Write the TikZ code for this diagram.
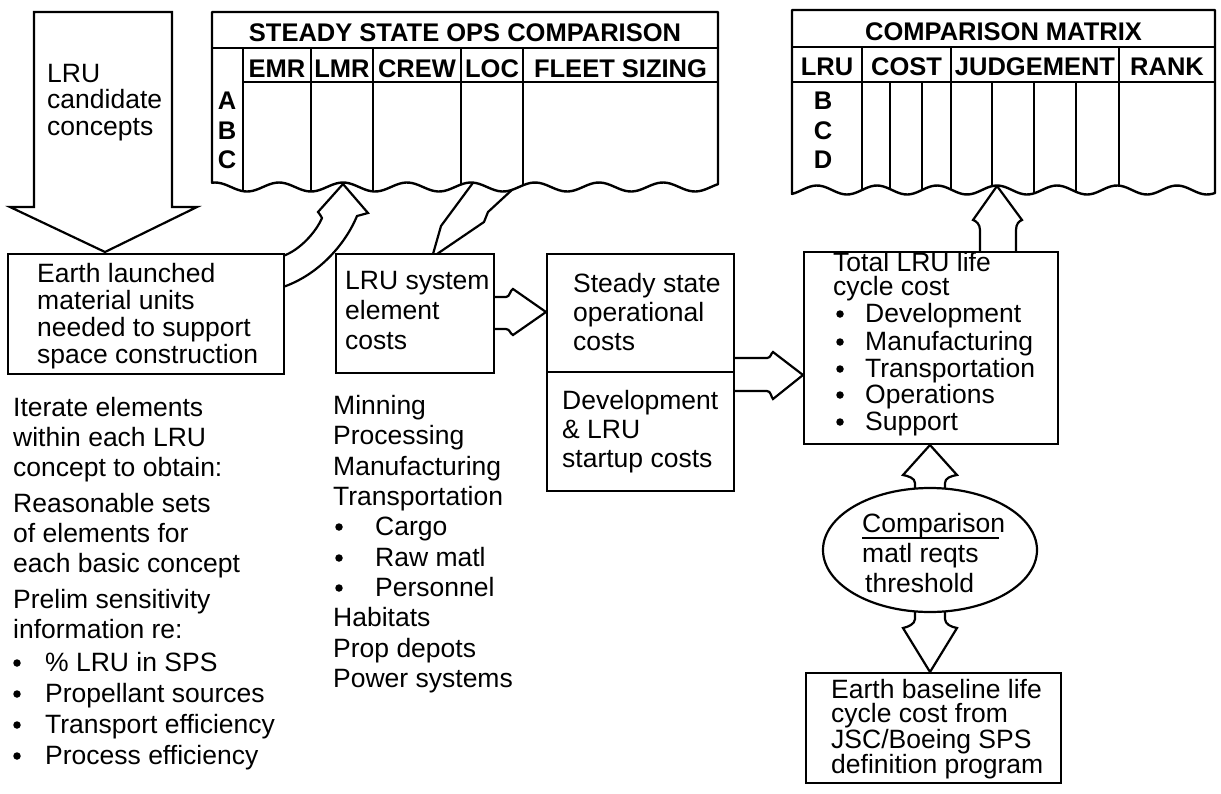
\documentclass[tikz,border=0pt]{standalone}
\usepackage{fontspec}
\setmainfont{Liberation Sans}
\usetikzlibrary{shapes.geometric}
\begin{document}
\begin{tikzpicture}[x=1pt,y=-1pt,
  txt/.style={inner sep=0pt, anchor=base west, font=\fontsize{26.5}{30}\selectfont},
  bul/.style={circle, fill=black, inner sep=0pt, minimum size=7.5pt},
  hdr/.style={inner sep=0pt, anchor=base, font=\bfseries\fontsize{25.5}{28}\selectfont},
  box/.style={draw, line width=2.4pt, fill=white, inner sep=0pt, anchor=north west},
  blk/.style={draw, line width=2.2pt, fill=white, line join=miter},
  tbl/.style={line width=2.4pt, line join=round},
  grid/.style={line width=1.7pt}]
\useasboundingbox (0,0) rectangle (1221,793);

% ---- block arrows (drawn first, boxes and tables cover their ends)
\draw[blk] (34,12) -- (172,12) -- (172,207) -- (197,207) -- (105,252) -- (10,207) -- (34,207) -- cycle;
\draw[blk] (283,256) .. controls (300,250) and (316,232) .. (322,218) .. controls (321,215) and (319,214) .. (318,212) -- (343,184) -- (368,213) -- (357,216) .. controls (345,245) and (318,275) .. (283,287);
\draw[blk] (433,254) -- (441,226) -- (478,176) -- (527,176) -- (488,212) -- (484,222) -- (437,254);
\draw[blk] (493,297) -- (506,297) .. controls (510,297) and (510,290) .. (513,289) -- (546,312) -- (513,335) .. controls (510,334) and (510,329) .. (506,329) -- (493,329);
\draw[blk] (733,358) -- (767,358) .. controls (771,358) and (771,353) .. (773,352) -- (803,375) -- (773,399) .. controls (771,397) and (771,391) .. (767,391) -- (733,391);
\draw[blk] (980,253) -- (980,230) .. controls (980,224) and (976,221) .. (973,220) -- (997,186) -- (1022,220) .. controls (1019,221) and (1016,224) .. (1016,230) -- (1016,253);
\draw[blk] (915,494) -- (915,483) .. controls (915,478) and (908,476) .. (903,475) -- (930,445) -- (957,475) .. controls (951,476) and (945,478) .. (945,483) -- (945,494);
\draw[blk] (915,606) -- (915,619) .. controls (915,624) and (908,627) .. (903,628) -- (930,672) -- (957,628) .. controls (951,627) and (945,624) .. (945,619) -- (945,606);

% ---- steady state table
\fill[white] (212,12) -- plot[domain=212:718,samples=160] (\x,{187-4.5*cos((\x-343)*5.625)}) -- (718,12) -- cycle;
\begin{scope}
\clip (212,12) -- plot[domain=212:718,samples=160] (\x,{187-4.5*cos((\x-343)*5.625)}) -- (718,12) -- cycle;
\draw[grid] (212,48) -- (718,48) (243,82) -- (718,82);
\foreach \cx in {243,311,373,461,523} \draw[grid] (\cx,48) -- (\cx,205);
\end{scope}
\draw[tbl] (212,12) -- plot[domain=212:718,samples=160] (\x,{187-4.5*cos((\x-343)*5.625)}) -- (718,12) -- cycle;

% ---- comparison matrix
\fill[white] (792,10) -- plot[domain=792:1215,samples=140] (\x,{190-4.5*cos((\x-997)*6)}) -- (1215,10) -- cycle;
\begin{scope}
\clip (792,10) -- plot[domain=792:1215,samples=140] (\x,{190-4.5*cos((\x-997)*6)}) -- (1215,10) -- cycle;
\draw[grid] (792,47) -- (1215,47) (792,82) -- (1215,82);
\foreach \cx in {862,951,1119} \draw[grid] (\cx,47) -- (\cx,205);
\foreach \cx in {890,922,992,1034,1076} \draw[grid] (\cx,82) -- (\cx,205);
\end{scope}
\draw[tbl] (792,10) -- plot[domain=792:1215,samples=140] (\x,{190-4.5*cos((\x-997)*6)}) -- (1215,10) -- cycle;

% ---- boxes
\node[box, minimum width=276pt, minimum height=120pt] (eb) at (7,253) {};
\node[box, minimum width=158pt, minimum height=119pt] (lru) at (335,253) {};
\node[box, minimum width=187pt, minimum height=237pt] (ss) at (546,253) {};
\draw[line width=2.4pt] (546,372) -- (733,372);
\node[box, minimum width=254pt, minimum height=192pt] (tot) at (803,251) {};
\node[draw, ellipse, line width=2.2pt, fill=white, inner sep=0pt, minimum width=214pt, minimum height=124pt] (ell) at (930,550) {};
\node[box, minimum width=255pt, minimum height=110pt] (ebl) at (805,672) {};

% ---- table texts
\node[hdr] (sst) at (465,41) {STEADY STATE OPS COMPARISON};
\foreach \cx/\t [count=\i] in {277/EMR,342/LMR,417/CREW,492/LOC,620.5/FLEET SIZING}
  \node[hdr] (sh\i) at (\cx,77) {\t};
\foreach \yy/\t [count=\i] in {109/A,139/B,168/C}
  \node[hdr] (sr\i) at (227,\yy) {\t};
\node[hdr] (cmt) at (1003.5,40) {COMPARISON MATRIX};
\foreach \cx/\t [count=\i] in {827/LRU,906.5/COST,1035/JUDGEMENT,1167/RANK}
  \node[hdr] (ch\i) at (\cx,75) {\t};
\foreach \yy/\t [count=\i] in {109/B,139/C,168/D}
  \node[hdr] (cr\i) at (823,\yy) {\t};

% ---- texts
\foreach \yy/\t [count=\i] in {82/LRU,108/candidate,135/concepts}
  \node[txt] (lc\i) at (47,\yy) {\t};
\foreach \yy/\t [count=\i] in {282/Earth launched,309/material units,336/needed to support,363/space construction}
  \node[txt] (et\i) at (37,\yy) {\t};
\foreach \yy/\t [count=\i] in {289/LRU system,319/element,349/costs}
  \node[txt] (lt\i) at (345,\yy) {\t};
\foreach \yy/\t [count=\i] in {292/Steady state,321/operational,350/costs}
  \node[txt] (st\i) at (573,\yy) {\t};
\foreach \yy/\t [count=\i] in {409/Development,438/\& LRU,467/startup costs}
  \node[txt] (dt\i) at (562,\yy) {\t};
\node[txt] (tt1) at (833,271) {Total LRU life};
\node[txt] (tt2) at (833,295) {cycle cost};
\foreach \yy/\t [count=\i] in {322/Development,350/Manufacturing,377/Transportation,403/Operations,430/Support}{
  \node[bul] (tb\i) at (840,\yy-8) {};
  \node[txt] (ti\i) at (865,\yy) {\t};}
\node[txt] (el1) at (862,532) {Comparison};
\draw[line width=2pt] (862,537.5) -- (999,537.5);
\node[txt] (el2) at (862,562) {matl reqts};
\node[txt] (el3) at (865,592) {threshold};
\foreach \yy/\t [count=\i] in {698/Earth baseline life,722/cycle cost from,748/{JSC/Boeing SPS},773/definition program}
  \node[txt] (bt\i) at (831,\yy) {\t};
\foreach \yy/\t [count=\i] in {416/Iterate elements,446/within each LRU,476/concept to obtain:,512/Reasonable sets,542/of elements for,572/each basic concept,608/Prelim sensitivity,638/information re:}
  \node[txt] (la\i) at (13,\yy) {\t};
\foreach \yy/\t [count=\i] in {671/\% LRU in SPS,702/Propellant sources,733/Transport efficiency,764/Process efficiency}{
  \node[bul] (lb\i) at (17,\yy-8) {};
  \node[txt] (lx\i) at (45,\yy) {\t};}
\foreach \yy/\t [count=\i] in {414/Minning,444/Processing,475/Manufacturing,505/Transportation,626/Habitats,657/Prop depots,687/Power systems}
  \node[txt] (ma\i) at (333,\yy) {\t};
\foreach \yy/\t [count=\i] in {535/Cargo,566/Raw matl,596/Personnel}{
  \node[bul] (mb\i) at (339,\yy-8) {};
  \node[txt] (mx\i) at (375,\yy) {\t};}
\end{tikzpicture}
\end{document}
